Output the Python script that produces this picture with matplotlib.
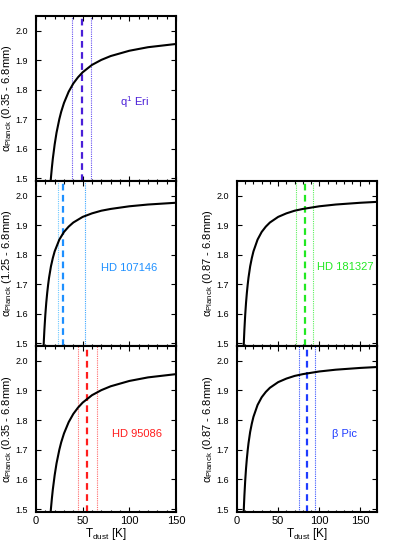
import matplotlib
matplotlib.use('Agg')
import matplotlib.pyplot as plt
from matplotlib.ticker import MultipleLocator, FormatStrFormatter

plt.rcParams['font.family'] = ['Liberation Sans', 'DejaVu Sans']
plt.rcParams['mathtext.fontset'] = 'custom'
plt.rcParams['mathtext.rm'] = 'Liberation Sans'
plt.rcParams['mathtext.it'] = 'Liberation Sans:italic'

# alpha_Planck vs T_dust
t_a = [15, 16, 17, 18, 20, 22, 25, 27, 30, 35, 40, 45, 50, 60, 70, 80, 100, 120, 150]
alpha_a = [1.463, 1.501, 1.535, 1.565, 1.614, 1.654, 1.700, 1.725, 1.755, 1.793,
           1.821, 1.842, 1.859, 1.884, 1.901, 1.914, 1.932, 1.944, 1.955]
t_b = [8, 8.5, 9, 10, 11, 12, 13, 14, 16, 18, 20, 25, 30, 35, 40, 50, 60, 70, 80,
       100, 120, 150, 170]
alpha_b = [1.479, 1.514, 1.545, 1.596, 1.637, 1.670, 1.698, 1.722, 1.760, 1.788,
           1.811, 1.851, 1.877, 1.895, 1.909, 1.928, 1.940, 1.949, 1.955, 1.964,
           1.970, 1.976, 1.979]

stars = ['q$^{\\rm 1}$ Eri', 'HD 107146', 'HD 95086', 'HD 181327', 'β Pic']
wave_ranges = ['(0.35 - 6.8mm)', '(1.25 - 6.8mm)', '(0.35 - 6.8mm)',
               '(0.87 - 6.8mm)', '(0.87 - 6.8mm)']
t_best = [49, 29, 55, 82, 85]
t_low = [39, 23.5, 45, 72, 75]
t_high = [59, 52, 65, 92, 95]

# per panel: axes rect, curve, xmax, colours, label position, show x labels
panels = [
    dict(rect=[0.0916, 0.6715, 0.3562, 0.2995], curve='a', xmax=150,
         c='#4a1fd8', cd=('#6650f0', '#6650f0'), txt=(90, 1.758), xl=False),
    dict(rect=[0.0916, 0.3721, 0.3562, 0.2995], curve='b', xmax=150,
         c='#1e90ff', cd=('#6cc8ff', '#3aa6ff'), txt=(70, 1.754), xl=False),
    dict(rect=[0.0916, 0.0708, 0.3562, 0.3013], curve='a', xmax=150,
         c='#ff1e1e', cd=('#ff6a6a', '#ff6a6a'), txt=(81, 1.754), xl=True),
    dict(rect=[0.6030, 0.3721, 0.3562, 0.2995], curve='b', xmax=170,
         c='#22e822', cd=('#5cf05c', '#5cf05c'), txt=(97.5, 1.757), xl=False),
    dict(rect=[0.6030, 0.0708, 0.3562, 0.3013], curve='b', xmax=170,
         c='#1f3cff', cd=('#3a55ff', '#3a55ff'), txt=(116, 1.754), xl=True),
]

fig = plt.figure(figsize=(3.93, 5.51), dpi=100)

for i, p in enumerate(panels):
    ax = fig.add_axes(p['rect'])
    if p['curve'] == 'a':
        ax.plot(t_a, alpha_a, color='black', lw=1.5, zorder=3)
    else:
        ax.plot(t_b, alpha_b, color='black', lw=1.5, zorder=3)
    ax.axvline(t_best[i], color=p['c'], lw=1.6, ls=(0, (3, 2)), zorder=2)
    ax.axvline(t_low[i], color=p['cd'][0], lw=0.8, ls=(0, (1, 1)), zorder=2)
    ax.axvline(t_high[i], color=p['cd'][1], lw=0.8, ls=(0, (1, 1)), zorder=2)
    ax.text(p['txt'][0], p['txt'][1], stars[i], color=p['c'], fontsize=8,
            va='center', ha='left')

    ax.set_xlim(0, p['xmax'])
    ax.set_ylim(1.49, 2.05)
    ax.xaxis.set_major_locator(MultipleLocator(50))
    ax.xaxis.set_minor_locator(MultipleLocator(10))
    ax.yaxis.set_major_locator(MultipleLocator(0.1))
    ax.yaxis.set_major_formatter(FormatStrFormatter('%.1f'))
    ax.tick_params(which='both', direction='in', top=True, right=True, width=0.8)
    ax.tick_params(which='major', length=3.5)
    ax.tick_params(which='minor', length=1.8)
    ax.tick_params(axis='y', pad=6, labelsize=6.5)
    ax.tick_params(axis='x', pad=3, labelsize=8)
    for s in ax.spines.values():
        s.set_linewidth(1.5)

    ax.set_ylabel('α$_{\\rm Planck}$ ' + wave_ranges[i], fontsize=8)
    ax.yaxis.set_label_coords(-0.157, 0.5)
    if p['xl']:
        ax.set_xlabel('T$_{\\rm dust}$ [K]', fontsize=8.5, labelpad=0)
    else:
        ax.tick_params(axis='x', labelbottom=False)

fig.savefig('out.png', dpi=100)
